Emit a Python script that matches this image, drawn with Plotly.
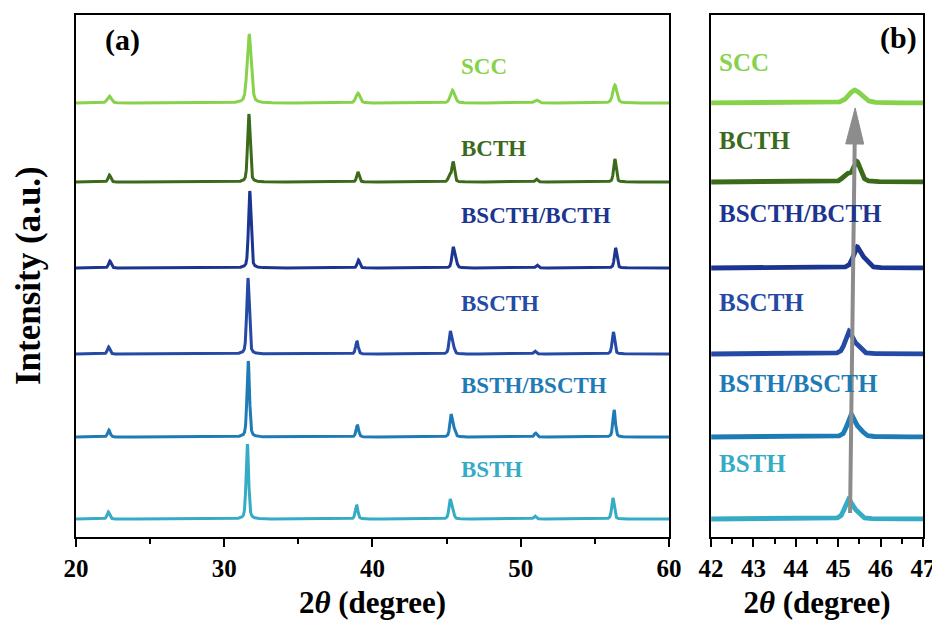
import numpy as np
import plotly.graph_objects as go
from plotly.subplots import make_subplots

# ---------------- data ----------------
samples = ["SCC", "BCTH", "BSCTH/BCTH", "BSCTH", "BSTH/BSCTH", "BSTH"]
colors = ["#86D24A", "#3B6A1A", "#1B3591", "#244AA5", "#1F7BB6", "#36ABC6"]
offsets = [434, 355, 269, 183, 100, 18]          # stacking offsets (a.u.)

# reflection positions (2theta, degree) and heights (a.u.) read per sample
pos_22 = [22.25, 22.25, 22.28, 22.20, 22.22, 22.18]
h_22 = [7, 7, 7, 7, 7, 7]
pos_31 = [31.68, 31.66, 31.72, 31.60, 31.62, 31.56]
h_31 = [69, 68, 77, 76, 76, 75]
pos_39 = [39.02, 39.02, 39.05, 38.95, 38.98, 38.93]
h_39 = [10, 10, 8, 13, 12, 14]
pos_45 = [45.38, 45.44, 45.44, 45.25, 45.30, 45.24]
h_45 = [12, 20, 20, 22, 22, 19]
pos_45s = [45.55, 45.20, 45.62, 45.44, 45.50, 45.42]   # shoulder component
h_45s = [2, 7, 7, 7, 7, 6]
pos_51 = [51.05, 51.05, 51.10, 50.95, 51.00, 50.95]
h_51 = [3, 3, 3, 3, 4, 3]
pos_56 = [56.35, 56.35, 56.40, 56.25, 56.30, 56.22]
h_56 = [18, 23, 20, 22, 27, 21]
fwhm = [0.32, 0.20, 0.20, 0.20, 0.20, 0.20]

arrow_x = [45.28, 45.40]      # (b) shift arrow: start, end 2theta
arrow_y = [24, 429]           # start, end intensity level

x_ticks_a = [20, 30, 40, 50, 60]
x_ticks_b = [42, 43, 44, 45, 46, 47]

# ---------------- layout constants ----------------
FONT = "Liberation Serif"
W, H = 932, 616                 # page body has an 8px margin
ML, MR, MT, MB = 68, 17, 7, 87
PW, PH = W - ML - MR, H - MT - MB
YR = [0, 522]
dom_a = [0, 0.7001]
dom_b = [0.7497, 1.0]

def pv(x, c, h, w, eta=0.4):
    g = np.exp(-4 * np.log(2) * ((x - c) / w) ** 2)
    l = 1.0 / (1 + 4 * ((x - c) / w) ** 2)
    return h * (eta * l + (1 - eta) * g)

x = np.arange(20, 60.0001, 0.005)

fig = make_subplots(rows=1, cols=2, shared_yaxes=False, horizontal_spacing=0.05)

for i, s in enumerate(samples):
    w = fwhm[i]
    y = np.full_like(x, offsets[i], dtype=float)
    for p, h in [(pos_22, h_22), (pos_31, h_31), (pos_39, h_39), (pos_45, h_45),
                 (pos_45s, h_45s), (pos_51, h_51), (pos_56, h_56)]:
        y += pv(x, p[i], h[i], w)
    fig.add_trace(go.Scatter(x=x, y=y, mode="lines", name=s,
                             line=dict(color=colors[i], width=3),
                             showlegend=False, hoverinfo="skip"), row=1, col=1)
    m = (x >= 42) & (x <= 47)
    fig.add_trace(go.Scatter(x=x[m], y=y[m], mode="lines", name=s,
                             line=dict(color=colors[i], width=4.8),
                             showlegend=False, hoverinfo="skip"), row=1, col=2)

# ---- shift arrow in (b): shaft + narrow filled head ----
sx = PW * (dom_b[1] - dom_b[0]) / (x_ticks_b[-1] - x_ticks_b[0])   # px per degree
sy = PH / (YR[1] - YR[0])                                          # px per unit
dxp = (arrow_x[1] - arrow_x[0]) * sx
dyp = (arrow_y[1] - arrow_y[0]) * sy
L = np.hypot(dxp, dyp)
ux, uy = dxp / L, dyp / L
head_len, head_half = 36, 9
bx = arrow_x[1] - head_len * ux / sx
by = arrow_y[1] - head_len * uy / sy
cx1, cy1 = bx - head_half * uy / sx, by + head_half * ux / sy
cx2, cy2 = bx + head_half * uy / sx, by - head_half * ux / sy
fig.add_trace(go.Scatter(x=[arrow_x[0], bx], y=[arrow_y[0], by + 2], mode="lines",
                         line=dict(color="#8C8C8C", width=4), showlegend=False,
                         hoverinfo="skip"), row=1, col=2)
fig.add_trace(go.Scatter(x=[cx1, arrow_x[1], cx2, cx1], y=[cy1, arrow_y[1], cy2, cy1],
                         mode="lines", fill="toself", fillcolor="#8C8C8C",
                         line=dict(color="#8C8C8C", width=1), showlegend=False,
                         hoverinfo="skip"), row=1, col=2)

label_dy_a = [37, 34, 53, 51, 52, 50]
label_dy_b = [41, 42, 55, 52, 54, 56]
for i, s in enumerate(samples):
    fig.add_annotation(x=45.83, y=offsets[i] + label_dy_a[i], xref="x", yref="y",
                       text="<b>%s</b>" % s, showarrow=False, xanchor="left",
                       yanchor="middle",
                       font=dict(family=FONT, size=23, color=colors[i]))
    fig.add_annotation(x=42.14, y=offsets[i] + label_dy_b[i], xref="x2", yref="y2",
                       text="<b>%s</b>" % s, showarrow=False, xanchor="left",
                       yanchor="middle",
                       font=dict(family=FONT, size=25, color=colors[i]))

fig.add_annotation(x=21.85, y=497, xref="x", yref="y", text="<b>(a)</b>",
                   showarrow=False, xanchor="left", yanchor="middle",
                   font=dict(family=FONT, size=30, color="black"))
fig.add_annotation(x=46.9, y=499, xref="x2", yref="y2", text="<b>(b)</b>",
                   showarrow=False, xanchor="right", yanchor="middle",
                   font=dict(family=FONT, size=30, color="black"))
fig.add_annotation(x=-48 / PW, y=0.5, xref="paper", yref="paper",
                   text="<b>Intensity (a.u.)</b>", textangle=-90, showarrow=False,
                   xanchor="center", yanchor="middle",
                   font=dict(family=FONT, size=35, color="black"))

axis_common = dict(showline=True, mirror=True, linecolor="black", linewidth=1.8,
                   showgrid=False, zeroline=False, automargin=False)
xcommon = dict(axis_common, ticks="outside", ticklen=8, tickwidth=1.6, tickcolor="black",
               tickfont=dict(family=FONT, size=25, color="black", weight="bold"),
               title=dict(text="<b>2<i>θ</i> (degree)</b>", standoff=10,
                          font=dict(family=FONT, size=31, color="black")))
fig.update_xaxes(xcommon, row=1, col=1, range=[20, 60], tickvals=x_ticks_a,
                 domain=dom_a,
                 minor=dict(dtick=5, tick0=20, ticks="outside", ticklen=5,
                            tickwidth=1.6, tickcolor="black", showgrid=False))
fig.update_xaxes(xcommon, row=1, col=2, range=[42, 47], tickvals=x_ticks_b,
                 domain=dom_b,
                 minor=dict(dtick=0.5, tick0=42, ticks="outside", ticklen=5,
                            tickwidth=1.6, tickcolor="black", showgrid=False))
fig.update_yaxes(axis_common, range=YR, showticklabels=False, ticks="")

fig.update_layout(width=W, height=H, plot_bgcolor="white", paper_bgcolor="white",
                  margin=dict(l=ML, r=MR, t=MT, b=MB, autoexpand=False))

fig.write_html("out.html")
